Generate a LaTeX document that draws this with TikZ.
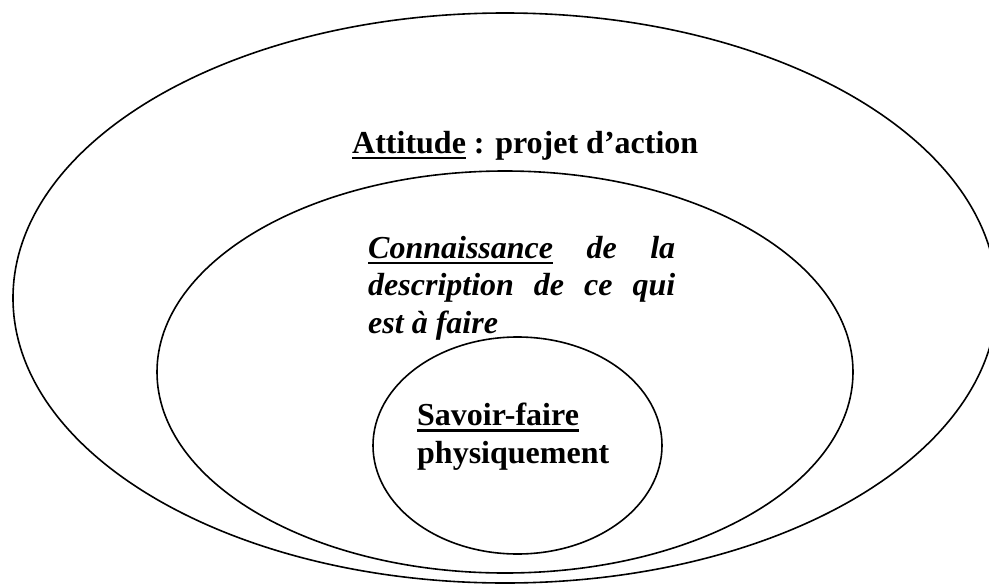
\documentclass[tikz,border=0pt]{standalone}
\usepackage{fontspec}
\setmainfont{Liberation Serif}
\usetikzlibrary{shapes.geometric}
\newcommand{\ulx}[1]{\setbox0\hbox{#1}\rlap{\rule[-6pt]{\wd0}{2.2pt}}\box0\relax}
\begin{document}
\begin{tikzpicture}[x=1pt,y=-1pt,
  ring/.style={draw, line width=1.6pt, ellipse, inner sep=0pt},
  lbl/.style={anchor=base west, inner sep=0pt, font=\fontsize{32}{37.5}\selectfont\bfseries},
  lblit/.style={anchor=base west, inner sep=0pt, font=\fontsize{32}{37.5}\selectfont\bfseries\itshape}]
\clip (0,0) rectangle (989,584);
\node[ring, minimum width=984pt, minimum height=570pt] (outer) at (505,298) {};
\node[ring, minimum width=696pt, minimum height=402pt] (middle) at (505,372) {};
\node[ring, minimum width=289pt, minimum height=217pt] (inner) at (517.5,445.5) {};
\node[lbl] (att) at (352,153) {\ulx{Attitude} : projet d’action};
\node[lblit, text width=307pt, align=justify] (conn) at (368,258)
  {\ulx{Connaissance}\hfill de\hfill la\\ description\hfill de\hfill ce\hfill qui\\ est à faire};
\node[lbl, align=left] (sav) at (417,463) {\ulx{Savoir-faire}\\ physiquement};
\end{tikzpicture}
\end{document}
